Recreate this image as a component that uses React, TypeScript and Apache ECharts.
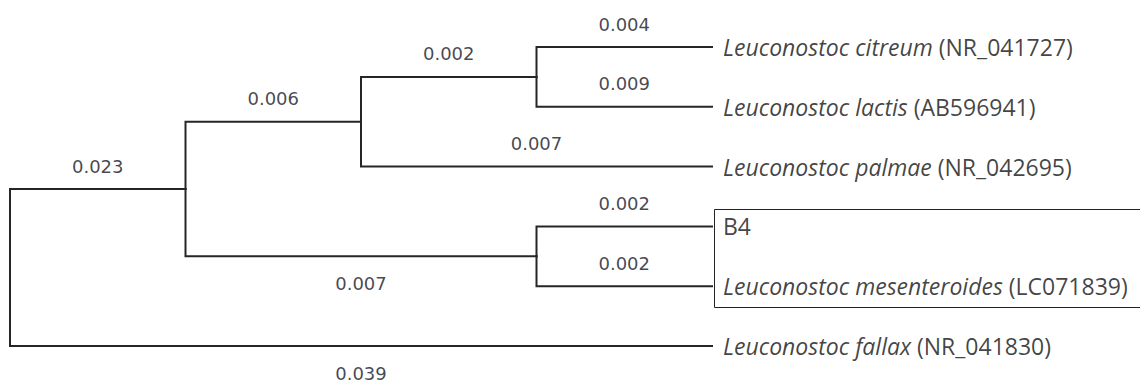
import React, { useEffect, useRef } from "react";
import * as echarts from "echarts";

// Tree topology: internal nodes and leaves
const leafNames = [
  "Leuconostoc citreum",
  "Leuconostoc lactis",
  "Leuconostoc palmae",
  "B4",
  "Leuconostoc mesenteroides",
  "Leuconostoc fallax",
];
const leafAccessions = ["NR_041727", "AB596941", "NR_042695", "", "LC071839", "NR_041830"];
const leafItalic = [true, true, true, false, true, true];

// edges: parent -> child, with branch length labels
const edgeParents = ["root", "root", "A", "A", "B", "B", "C", "C", "D", "D"];
const edgeChildren = ["A", "L5", "B", "D", "C", "L2", "L0", "L1", "L3", "L4"];
const branchLengths = ["0.023", "0.039", "0.006", "0.007", "0.002", "0.007", "0.004", "0.009", "0.002", "0.002"];
const labelBelow = [false, true, false, true, false, false, false, false, false, false];

const TIP_DEPTH = 4;

function buildLayout() {
  const children: Record<string, string[]> = {};
  edgeParents.forEach((p, i) => {
    (children[p] = children[p] || []).push(edgeChildren[i]);
  });
  const pos: Record<string, [number, number]> = {};
  // returns [y, height]; x = TIP_DEPTH - height (tips aligned)
  const place = (n: string): [number, number] => {
    if (n.startsWith("L")) {
      const idx = parseInt(n.slice(1), 10);
      pos[n] = [TIP_DEPTH, idx];
      return [idx, 0];
    }
    const res = children[n].map((c) => place(c));
    const ys = res.map((r) => r[0]);
    const h = Math.max(...res.map((r) => r[1])) + 1;
    const y = (Math.min(...ys) + Math.max(...ys)) / 2;
    pos[n] = [TIP_DEPTH - h, y];
    return [y, h];
  };
  place("root");
  return pos;
}

export default function App() {
  const ref = useRef<HTMLDivElement>(null);
  useEffect(() => {
    document.body.style.margin = "0";
    if (!ref.current) return;
    const chart = echarts.init(ref.current, undefined, { renderer: "svg" });
    const pos = buildLayout();

    const lineData = edgeParents.map((p, i) => {
      const [px, py] = pos[p];
      const [cx, cy] = pos[edgeChildren[i]];
      return { coords: [[px, py], [px, cy], [cx, cy]] };
    });

    const numFont = "'DejaVu Sans', sans-serif";
    const labelData = edgeParents.map((p, i) => {
      const [px] = pos[p];
      const [cx, cy] = pos[edgeChildren[i]];
      return {
        value: [(px + cx) / 2, cy],
        label: {
          show: true,
          position: "inside",
          formatter: branchLengths[i],
          offset: [0, labelBelow[i] ? 27 : -23],
          color: "#161625",
          fontFamily: numFont,
          fontSize: 18,
        },
      };
    });

    const tipData = leafNames.map((name, i) => {
      const acc = leafAccessions[i];
      const fmt = leafItalic[i]
        ? `{i|${name}}` + (acc ? `{n| (${acc})}` : "")
        : `{n|${name}}`;
      return {
        value: [TIP_DEPTH, i],
        label: {
          show: true,
          position: "right",
          distance: 11,
          formatter: fmt,
        },
      };
    });

    const tipFont = "'Open Sans', 'Noto Sans', sans-serif";

    chart.setOption({
      animation: false,
      grid: { left: 10, top: 47, width: 702, height: 299 },
      xAxis: { type: "value", min: 0, max: TIP_DEPTH, show: false },
      yAxis: { type: "value", min: 0, max: leafNames.length - 1, inverse: true, show: false },
      series: [
        {
          type: "lines",
          coordinateSystem: "cartesian2d",
          polyline: true,
          data: lineData,
          silent: true,
          lineStyle: { color: "#262626", width: 2, opacity: 1, join: "miter", cap: "square" },
        },
        {
          type: "scatter",
          symbolSize: 0,
          data: labelData,
          silent: true,
        },
        {
          type: "scatter",
          symbolSize: 0,
          data: tipData,
          silent: true,
          label: {
            rich: {
              i: { fontFamily: tipFont, fontStyle: "italic", fontSize: 23, color: "#111" },
              n: { fontFamily: tipFont, fontSize: 23, color: "#111" },
            },
          },
        },
      ],
      graphic: [
        {
          type: "rect",
          shape: { x: 714.5, y: 209.5, width: 450, height: 98 },
          style: { fill: "none", stroke: "#222", lineWidth: 1 },
          silent: true,
        },
      ],
    });
    return () => chart.dispose();
  }, []);
  return <div ref={ref} style={{ width: 1140, height: 385 }} />;
}
